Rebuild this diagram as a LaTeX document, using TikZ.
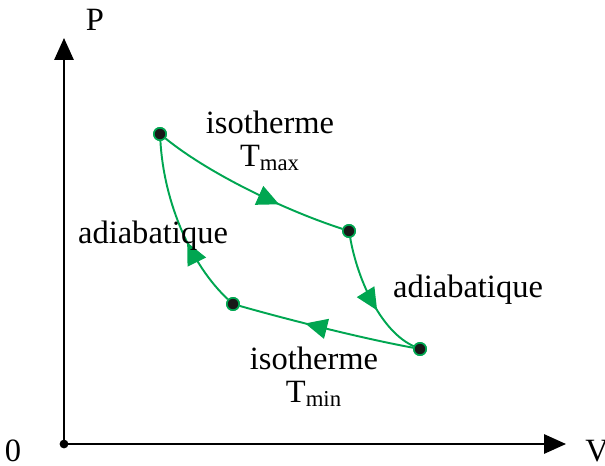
\documentclass[tikz,border=0pt]{standalone}
\usepackage{fontspec}
\setmainfont{Liberation Serif}
\usepackage{tikz}
\usetikzlibrary{arrows.meta,decorations.markings}
\definecolor{cyclegreen}{HTML}{00A651}
\tikzset{
  axis/.style={line width=1.1pt,-{Triangle[length=12.5pt,width=11pt]}},
  cyclepath/.style={draw=cyclegreen,color=cyclegreen,line width=1.1pt},
  midarrow/.style={postaction={decorate},decoration={markings,
    mark=at position #1 with {\arrow{Triangle[length=12.5pt,width=11.5pt]}}}},
  statept/.style={circle,fill=black!90,draw=cyclegreen,line width=0.9pt,
    inner sep=0pt,minimum size=7pt},
  origpt/.style={circle,fill=black,inner sep=0pt,minimum size=5pt},
  lbl/.style={font=\fontsize{18.5}{22}\selectfont,inner sep=0pt,align=center},
}
\begin{document}
\begin{tikzpicture}[x=0.02cm,y=-0.02cm]
  \useasboundingbox (0,0) rectangle (605,466);
  % axes
  \node[origpt] (o) at (64,444) {};
  \coordinate (ptop) at (64,38);
  \coordinate (vend) at (566,444);
  \draw[axis] (o.center) -- (ptop);
  \draw[axis] (o.center) -- (vend);
  \node[lbl] (zero) at (13,451) {0};
  \node[lbl] (plbl) at (95,20) {P};
  \node[lbl] (vlbl) at (597,451) {V};
  % states of the cycle
  \node[statept] (a) at (160,134) {};
  \node[statept] (b) at (349,231) {};
  \node[statept] (c) at (420,349) {};
  \node[statept] (d) at (233,304) {};
  \draw[cyclepath,midarrow=0.66] (a) .. controls (212,176) and (290,212) .. (b);
  \draw[cyclepath,midarrow=0.6] (b) .. controls (358,282) and (382,332) .. (c);
  \draw[cyclepath,midarrow=0.62] (c) .. controls (360,338) and (282,318) .. (d);
  \draw[cyclepath,midarrow=0.4] (d) .. controls (192,266) and (164,204) .. (a);
  % labels
  \node[lbl] (hot) at (270,122) {isotherme};
  \node[lbl] (hotT) at (270,158) {T\textsubscript{max}};
  \node[lbl] (adl) at (153,236) {adiabatique};
  \node[lbl] (adr) at (468,290) {adiabatique};
  \node[lbl] (cold) at (314,358) {isotherme};
  \node[lbl] (coldT) at (314,394) {T\textsubscript{min}};
  % dots on top
  \foreach \p in {a,b,c,d} \node[statept] at (\p) {};
\end{tikzpicture}
\end{document}
